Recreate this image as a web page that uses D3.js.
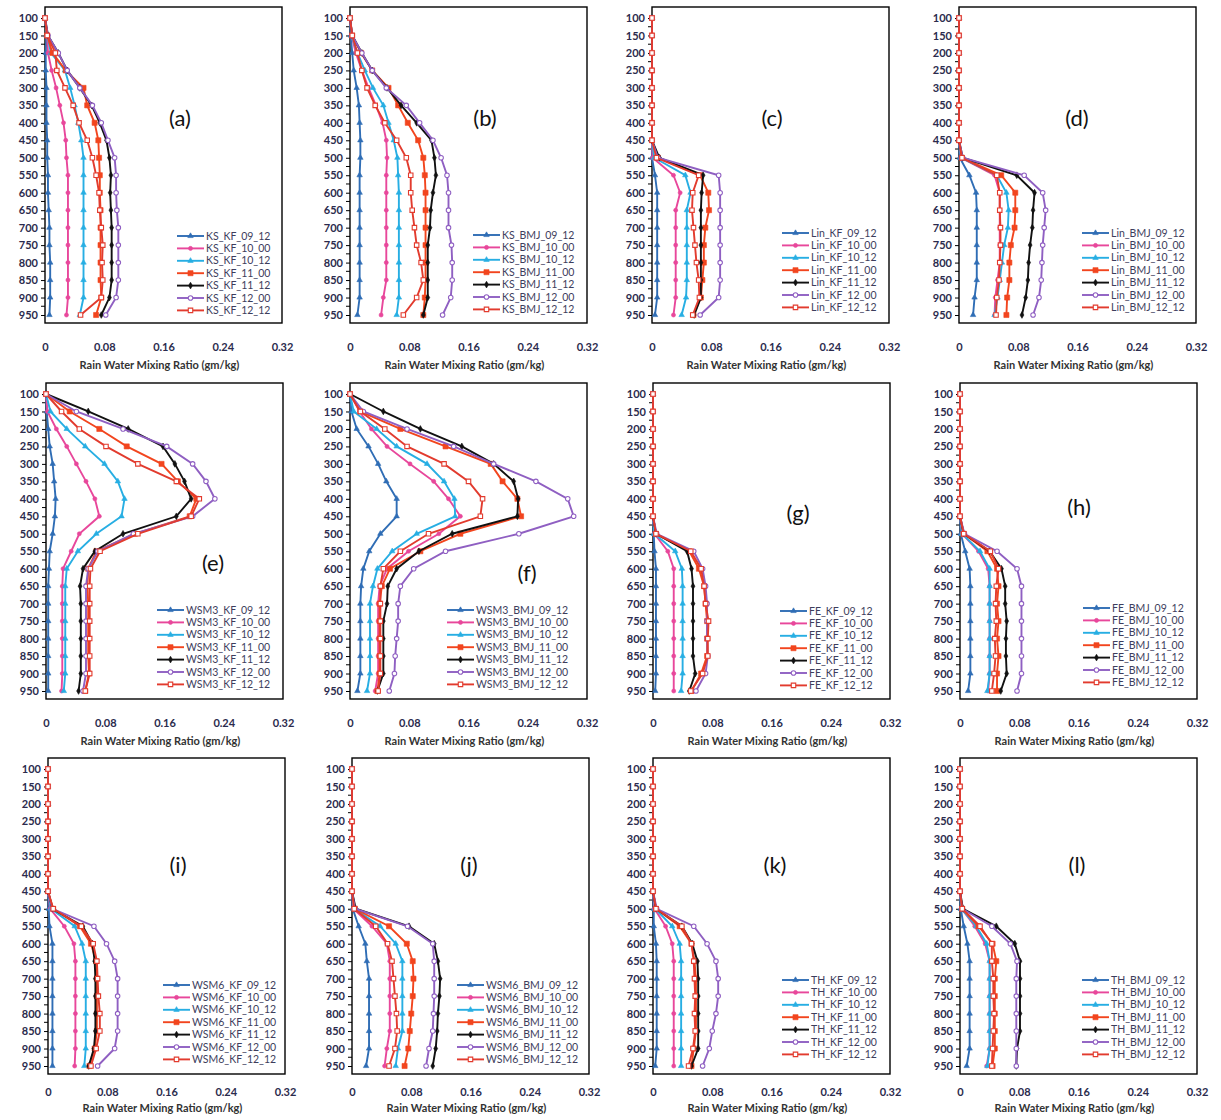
<!DOCTYPE html>
<html>
<head>
<meta charset="utf-8">
<script src="https://cdn.jsdelivr.net/npm/d3@7"></script>
<style>
  body { margin: 0; background: #fff; }
  svg { display: block; }
  text { font-family: Lato, "Open Sans", "DejaVu Sans", sans-serif; }
</style>
</head>
<body>
<svg id="chart" width="1221" height="1120"></svg>
<script>
// Pressure levels (hPa), top of atmosphere first
const levels = [100, 150, 200, 250, 300, 350, 400, 450, 500, 550, 600, 650, 700, 750, 800, 850, 900, 950];

// Forecast runs (day_hour), one series per run
const runs = ["09_12", "10_00", "10_12", "11_00", "11_12", "12_00", "12_12"];

// Microphysics / cumulus scheme combinations, one panel each
const schemes = ["KS_KF", "KS_BMJ", "Lin_KF", "Lin_BMJ", "WSM3_KF", "WSM3_BMJ",
                 "FE_KF", "FE_BMJ", "WSM6_KF", "WSM6_BMJ", "TH_KF", "TH_BMJ"];
const panelTags = ["(a)", "(b)", "(c)", "(d)", "(e)", "(f)", "(g)", "(h)", "(i)", "(j)", "(k)", "(l)"];

const xTicks = [0, 0.08, 0.16, 0.24, 0.32];
const xTitle = "Rain Water Mixing Ratio (gm/kg)";

// Rain water mixing ratio (gm/kg) per run, at each pressure level
const ksKf = [
  [0, 0.002, 0.001, 0.001, 0.002, 0.002, 0.002, 0.003, 0.003, 0.004, 0.004, 0.005, 0.006, 0.006, 0.007, 0.007, 0.007, 0.006],
  [0, 0.003, 0.004, 0.009, 0.015, 0.020, 0.025, 0.028, 0.029, 0.031, 0.031, 0.031, 0.031, 0.031, 0.031, 0.031, 0.031, 0.029],
  [0, 0.003, 0.008, 0.027, 0.034, 0.040, 0.045, 0.049, 0.052, 0.052, 0.052, 0.052, 0.052, 0.052, 0.052, 0.052, 0.052, 0.047],
  [0, 0.003, 0.010, 0.028, 0.052, 0.057, 0.067, 0.072, 0.073, 0.074, 0.074, 0.075, 0.075, 0.075, 0.075, 0.075, 0.076, 0.069],
  [0, 0.004, 0.018, 0.030, 0.047, 0.063, 0.074, 0.083, 0.087, 0.089, 0.088, 0.089, 0.090, 0.090, 0.090, 0.090, 0.087, 0.076],
  [0, 0.004, 0.018, 0.030, 0.047, 0.064, 0.076, 0.085, 0.094, 0.096, 0.096, 0.097, 0.099, 0.099, 0.099, 0.099, 0.096, 0.082],
  [0, 0.003, 0.014, 0.016, 0.027, 0.038, 0.046, 0.057, 0.064, 0.069, 0.073, 0.074, 0.076, 0.078, 0.077, 0.078, 0.076, 0.048]
];
const ksBmj = [
  [0, 0.001, 0.003, 0.005, 0.009, 0.012, 0.013, 0.014, 0.014, 0.013, 0.013, 0.013, 0.013, 0.013, 0.013, 0.013, 0.013, 0.010],
  [0, 0.002, 0.008, 0.016, 0.025, 0.035, 0.044, 0.049, 0.050, 0.049, 0.049, 0.049, 0.049, 0.049, 0.049, 0.049, 0.045, 0.042],
  [0, 0.002, 0.010, 0.020, 0.031, 0.045, 0.052, 0.059, 0.064, 0.065, 0.066, 0.066, 0.066, 0.066, 0.066, 0.066, 0.066, 0.063],
  [0, 0.003, 0.015, 0.030, 0.052, 0.065, 0.078, 0.092, 0.099, 0.101, 0.102, 0.102, 0.102, 0.102, 0.102, 0.102, 0.101, 0.099],
  [0, 0.003, 0.016, 0.030, 0.050, 0.069, 0.090, 0.110, 0.114, 0.116, 0.112, 0.109, 0.108, 0.105, 0.105, 0.105, 0.105, 0.099],
  [0, 0.003, 0.016, 0.030, 0.049, 0.076, 0.094, 0.112, 0.123, 0.131, 0.133, 0.133, 0.133, 0.137, 0.138, 0.138, 0.136, 0.125],
  [0, 0.003, 0.010, 0.016, 0.023, 0.034, 0.047, 0.063, 0.076, 0.082, 0.082, 0.084, 0.087, 0.090, 0.096, 0.099, 0.090, 0.072]
];
const linKf = [
  [0, 0, 0, 0, 0, 0, 0, 0, 0.000, 0.004, 0.007, 0.007, 0.007, 0.007, 0.007, 0.007, 0.007, 0.004],
  [0, 0, 0, 0, 0, 0, 0, 0, 0.001, 0.029, 0.038, 0.032, 0.032, 0.032, 0.032, 0.032, 0.032, 0.029],
  [0, 0, 0, 0, 0, 0, 0, 0, 0.003, 0.045, 0.052, 0.047, 0.047, 0.047, 0.047, 0.047, 0.046, 0.040],
  [0, 0, 0, 0, 0, 0, 0, 0, 0.008, 0.065, 0.076, 0.077, 0.072, 0.070, 0.070, 0.068, 0.066, 0.056],
  [0, 0, 0, 0, 0, 0, 0, 0, 0.010, 0.069, 0.067, 0.066, 0.066, 0.066, 0.066, 0.066, 0.066, 0.057],
  [0, 0, 0, 0, 0, 0, 0, 0, 0.008, 0.090, 0.092, 0.092, 0.092, 0.092, 0.092, 0.092, 0.090, 0.065],
  [0, 0, 0, 0, 0, 0, 0, 0, 0.006, 0.063, 0.055, 0.054, 0.056, 0.058, 0.060, 0.063, 0.064, 0.055]
];
const linBmj = [
  [0, 0, 0, 0, 0, 0, 0, 0, 0.001, 0.014, 0.023, 0.024, 0.024, 0.024, 0.024, 0.024, 0.021, 0.019],
  [0, 0, 0, 0, 0, 0, 0, 0, 0.003, 0.048, 0.055, 0.055, 0.055, 0.055, 0.055, 0.052, 0.049, 0.048],
  [0, 0, 0, 0, 0, 0, 0, 0, 0.003, 0.051, 0.064, 0.067, 0.066, 0.061, 0.058, 0.055, 0.052, 0.048],
  [0, 0, 0, 0, 0, 0, 0, 0, 0.004, 0.057, 0.076, 0.076, 0.075, 0.070, 0.068, 0.068, 0.065, 0.064],
  [0, 0, 0, 0, 0, 0, 0, 0, 0.005, 0.078, 0.102, 0.100, 0.099, 0.096, 0.094, 0.093, 0.090, 0.085],
  [0, 0, 0, 0, 0, 0, 0, 0, 0.005, 0.088, 0.113, 0.117, 0.115, 0.113, 0.112, 0.111, 0.108, 0.100],
  [0, 0, 0, 0, 0, 0, 0, 0, 0.004, 0.051, 0.055, 0.055, 0.056, 0.056, 0.055, 0.054, 0.051, 0.050]
];
const wsm3Kf = [
  [0, 0.001, 0.003, 0.005, 0.009, 0.011, 0.013, 0.012, 0.009, 0.005, 0.004, 0.003, 0.003, 0.003, 0.003, 0.003, 0.003, 0.003],
  [0, 0.002, 0.014, 0.028, 0.041, 0.054, 0.066, 0.072, 0.045, 0.034, 0.023, 0.022, 0.022, 0.022, 0.022, 0.022, 0.022, 0.021],
  [0, 0.006, 0.028, 0.053, 0.079, 0.097, 0.106, 0.102, 0.068, 0.043, 0.028, 0.026, 0.026, 0.026, 0.026, 0.026, 0.026, 0.024],
  [0, 0.032, 0.072, 0.109, 0.156, 0.178, 0.203, 0.194, 0.120, 0.068, 0.057, 0.056, 0.057, 0.057, 0.057, 0.057, 0.058, 0.053],
  [0, 0.057, 0.111, 0.158, 0.174, 0.187, 0.196, 0.176, 0.104, 0.066, 0.050, 0.046, 0.047, 0.047, 0.047, 0.047, 0.047, 0.044],
  [0, 0.041, 0.104, 0.163, 0.198, 0.216, 0.228, 0.198, 0.118, 0.070, 0.057, 0.054, 0.054, 0.054, 0.054, 0.054, 0.054, 0.050],
  [0, 0.021, 0.045, 0.081, 0.124, 0.176, 0.207, 0.196, 0.124, 0.073, 0.060, 0.059, 0.059, 0.059, 0.059, 0.059, 0.059, 0.053]
];
const wsm3Bmj = [
  [0, 0.002, 0.009, 0.025, 0.038, 0.049, 0.063, 0.063, 0.041, 0.026, 0.018, 0.015, 0.014, 0.014, 0.014, 0.014, 0.014, 0.010],
  [0, 0.013, 0.029, 0.050, 0.081, 0.113, 0.133, 0.149, 0.120, 0.079, 0.050, 0.040, 0.038, 0.038, 0.038, 0.038, 0.038, 0.034],
  [0, 0.005, 0.036, 0.063, 0.104, 0.127, 0.141, 0.142, 0.090, 0.057, 0.037, 0.031, 0.027, 0.027, 0.027, 0.027, 0.027, 0.023],
  [0, 0.014, 0.068, 0.129, 0.190, 0.206, 0.226, 0.231, 0.149, 0.095, 0.054, 0.043, 0.040, 0.040, 0.040, 0.040, 0.040, 0.037],
  [0, 0.045, 0.095, 0.151, 0.194, 0.221, 0.227, 0.226, 0.138, 0.093, 0.063, 0.051, 0.050, 0.045, 0.045, 0.045, 0.045, 0.037],
  [0, 0.018, 0.077, 0.140, 0.194, 0.251, 0.294, 0.302, 0.228, 0.129, 0.086, 0.068, 0.065, 0.065, 0.063, 0.061, 0.060, 0.053],
  [0, 0.014, 0.047, 0.077, 0.127, 0.160, 0.179, 0.176, 0.106, 0.068, 0.045, 0.041, 0.041, 0.041, 0.041, 0.041, 0.041, 0.038]
];
const feKf = [
  [0, 0, 0, 0, 0, 0, 0, 0, 0.001, 0.002, 0.004, 0.004, 0.004, 0.004, 0.004, 0.004, 0.004, 0.003],
  [0, 0, 0, 0, 0, 0, 0, 0, 0.002, 0.020, 0.028, 0.028, 0.028, 0.028, 0.028, 0.028, 0.028, 0.028],
  [0, 0, 0, 0, 0, 0, 0, 0, 0.002, 0.030, 0.039, 0.040, 0.040, 0.040, 0.040, 0.040, 0.040, 0.038],
  [0, 0, 0, 0, 0, 0, 0, 0, 0.004, 0.049, 0.062, 0.069, 0.071, 0.073, 0.073, 0.073, 0.065, 0.052],
  [0, 0, 0, 0, 0, 0, 0, 0, 0.004, 0.046, 0.052, 0.054, 0.054, 0.054, 0.054, 0.054, 0.057, 0.049],
  [0, 0, 0, 0, 0, 0, 0, 0, 0.005, 0.055, 0.067, 0.071, 0.073, 0.073, 0.073, 0.074, 0.071, 0.058],
  [0, 0, 0, 0, 0, 0, 0, 0, 0.004, 0.051, 0.065, 0.069, 0.071, 0.075, 0.074, 0.074, 0.067, 0.051]
];
const feBmj = [
  [0, 0, 0, 0, 0, 0, 0, 0, 0.001, 0.007, 0.013, 0.014, 0.014, 0.014, 0.014, 0.014, 0.014, 0.011],
  [0, 0, 0, 0, 0, 0, 0, 0, 0.003, 0.025, 0.038, 0.040, 0.040, 0.040, 0.040, 0.040, 0.040, 0.038],
  [0, 0, 0, 0, 0, 0, 0, 0, 0.003, 0.027, 0.040, 0.040, 0.040, 0.040, 0.040, 0.040, 0.040, 0.037],
  [0, 0, 0, 0, 0, 0, 0, 0, 0.005, 0.037, 0.050, 0.052, 0.050, 0.052, 0.050, 0.052, 0.050, 0.050],
  [0, 0, 0, 0, 0, 0, 0, 0, 0.005, 0.040, 0.056, 0.061, 0.061, 0.063, 0.062, 0.062, 0.063, 0.055],
  [0, 0, 0, 0, 0, 0, 0, 0, 0.006, 0.050, 0.077, 0.083, 0.083, 0.083, 0.083, 0.083, 0.083, 0.077],
  [0, 0, 0, 0, 0, 0, 0, 0, 0.005, 0.041, 0.052, 0.049, 0.048, 0.049, 0.047, 0.048, 0.046, 0.043]
];
const wsm6Kf = [
  [0, 0, 0, 0, 0, 0, 0, 0, 0.001, 0.002, 0.006, 0.006, 0.006, 0.006, 0.006, 0.006, 0.006, 0.006],
  [0, 0, 0, 0, 0, 0, 0, 0, 0.003, 0.022, 0.035, 0.037, 0.037, 0.037, 0.037, 0.037, 0.037, 0.036],
  [0, 0, 0, 0, 0, 0, 0, 0, 0.004, 0.036, 0.046, 0.051, 0.051, 0.051, 0.051, 0.051, 0.051, 0.049],
  [0, 0, 0, 0, 0, 0, 0, 0, 0.007, 0.043, 0.058, 0.065, 0.066, 0.066, 0.066, 0.066, 0.063, 0.056],
  [0, 0, 0, 0, 0, 0, 0, 0, 0.006, 0.047, 0.060, 0.063, 0.064, 0.064, 0.064, 0.064, 0.062, 0.055],
  [0, 0, 0, 0, 0, 0, 0, 0, 0.006, 0.062, 0.079, 0.090, 0.094, 0.094, 0.094, 0.094, 0.090, 0.067],
  [0, 0, 0, 0, 0, 0, 0, 0, 0.007, 0.045, 0.061, 0.066, 0.067, 0.068, 0.070, 0.070, 0.065, 0.058]
];
const wsm6Bmj = [
  [0, 0, 0, 0, 0, 0, 0, 0, 0.001, 0.009, 0.018, 0.020, 0.023, 0.023, 0.023, 0.023, 0.023, 0.019],
  [0, 0, 0, 0, 0, 0, 0, 0, 0.002, 0.027, 0.047, 0.051, 0.051, 0.051, 0.051, 0.051, 0.047, 0.044],
  [0, 0, 0, 0, 0, 0, 0, 0, 0.003, 0.038, 0.059, 0.068, 0.068, 0.068, 0.068, 0.068, 0.062, 0.059],
  [0, 0, 0, 0, 0, 0, 0, 0, 0.004, 0.050, 0.074, 0.082, 0.083, 0.082, 0.080, 0.078, 0.076, 0.071],
  [0, 0, 0, 0, 0, 0, 0, 0, 0.005, 0.077, 0.111, 0.116, 0.119, 0.118, 0.116, 0.115, 0.113, 0.109],
  [0, 0, 0, 0, 0, 0, 0, 0, 0.004, 0.075, 0.109, 0.111, 0.111, 0.111, 0.110, 0.109, 0.104, 0.100],
  [0, 0, 0, 0, 0, 0, 0, 0, 0.003, 0.032, 0.048, 0.054, 0.056, 0.058, 0.060, 0.061, 0.058, 0.050]
];
const thKf = [
  [0, 0, 0, 0, 0, 0, 0, 0, 0.001, 0.001, 0.004, 0.005, 0.005, 0.005, 0.005, 0.005, 0.005, 0.003],
  [0, 0, 0, 0, 0, 0, 0, 0, 0.002, 0.017, 0.026, 0.028, 0.028, 0.028, 0.028, 0.028, 0.028, 0.028],
  [0, 0, 0, 0, 0, 0, 0, 0, 0.003, 0.026, 0.036, 0.038, 0.038, 0.038, 0.038, 0.038, 0.038, 0.038],
  [0, 0, 0, 0, 0, 0, 0, 0, 0.004, 0.036, 0.052, 0.056, 0.058, 0.058, 0.058, 0.058, 0.055, 0.052],
  [0, 0, 0, 0, 0, 0, 0, 0, 0.004, 0.039, 0.053, 0.060, 0.061, 0.061, 0.061, 0.061, 0.061, 0.052],
  [0, 0, 0, 0, 0, 0, 0, 0, 0.005, 0.055, 0.073, 0.085, 0.088, 0.088, 0.085, 0.080, 0.076, 0.067],
  [0, 0, 0, 0, 0, 0, 0, 0, 0.004, 0.039, 0.052, 0.055, 0.056, 0.057, 0.056, 0.057, 0.054, 0.048]
];
const thBmj = [
  [0, 0, 0, 0, 0, 0, 0, 0, 0.001, 0.005, 0.010, 0.013, 0.013, 0.013, 0.013, 0.013, 0.013, 0.009],
  [0, 0, 0, 0, 0, 0, 0, 0, 0.002, 0.020, 0.034, 0.040, 0.040, 0.040, 0.040, 0.040, 0.040, 0.036],
  [0, 0, 0, 0, 0, 0, 0, 0, 0.002, 0.022, 0.036, 0.040, 0.040, 0.040, 0.040, 0.040, 0.040, 0.037],
  [0, 0, 0, 0, 0, 0, 0, 0, 0.003, 0.025, 0.044, 0.049, 0.047, 0.047, 0.047, 0.047, 0.047, 0.044],
  [0, 0, 0, 0, 0, 0, 0, 0, 0.004, 0.049, 0.074, 0.081, 0.081, 0.081, 0.081, 0.081, 0.077, 0.076],
  [0, 0, 0, 0, 0, 0, 0, 0, 0.003, 0.043, 0.068, 0.077, 0.076, 0.076, 0.076, 0.076, 0.076, 0.076],
  [0, 0, 0, 0, 0, 0, 0, 0, 0.003, 0.027, 0.043, 0.043, 0.045, 0.045, 0.046, 0.045, 0.044, 0.043]
];

const panelData = [ksKf, ksBmj, linKf, linBmj, wsm3Kf, wsm3Bmj, feKf, feBmj, wsm6Kf, wsm6Bmj, thKf, thBmj];

// ---- layout ----
const panelLeft = [45, 350, 652, 959, 46, 350, 653, 960, 48, 352, 653, 960];
const rowTop = [7, 383, 758];
const rowLabelPad = [20, 20, 14];
const rowTitleGap = [46, 46, 38];
const plotW = 237, plotH = 316;
const legendDx = [132, 123, 130, 123, 111, 97, 127, 123, 115, 105, 129, 122];
const legendDy = [229, 228, 226, 226, 227, 227, 228, 225, 227, 227, 222, 222];
const tagPos = [[135, 111], [135, 111], [120, 111], [118, 111], [167, 180], [177, 190],
                [145, 130], [119, 124], [130, 107], [117, 107], [122, 107], [117, 107]];

// line colour and marker for each run
const runStyle = [
  { color: "#2f6db5", shape: d3.symbolTriangle, size: 13, filled: true },
  { color: "#e8479b", shape: d3.symbolCircle,   size: 13, filled: true },
  { color: "#27aee3", shape: d3.symbolTriangle, size: 13, filled: true },
  { color: "#f2451e", shape: d3.symbolSquare,   size: 26, filled: true },
  { color: "#111111", shape: d3.symbolDiamond,  size: 13, filled: true },
  { color: "#8f5fc2", shape: d3.symbolCircle,   size: 16, filled: false },
  { color: "#e23b2e", shape: d3.symbolSquare,   size: 20, filled: false }
];

const svg = d3.select("#chart");
const tickColor = "#2b2b4d";

panelData.forEach((series, p) => {
  const row = Math.floor(p / 4);
  const left = panelLeft[p];
  const top = rowTop[row];
  const bottom = top + plotH;

  const x = d3.scaleLinear().domain([0, 0.32]).range([left, left + plotW]);
  const y = d3.scaleLinear().domain([100, 950]).range([top + 11, top + 308]);

  const g = svg.append("g").attr("class", "panel");

  // plot frame
  g.append("rect")
    .attr("x", left).attr("y", top)
    .attr("width", plotW).attr("height", plotH)
    .attr("fill", "none").attr("stroke", "#000").attr("stroke-width", 1.4);

  // pressure axis
  const yAxis = g.append("g")
    .attr("transform", `translate(${left},0)`)
    .call(d3.axisLeft(y).tickValues(levels).tickSize(4).tickPadding(3));
  yAxis.select(".domain").remove();
  yAxis.selectAll(".tick line").attr("stroke", "#000").attr("stroke-width", 1);
  yAxis.selectAll(".tick text")
    .attr("fill", tickColor)
    .style("font-size", "11px").style("font-weight", "700");

  // in-between tick marks on the pressure axis
  const midLevels = levels.slice(1).map((v, k) => (v + levels[k]) / 2);
  g.append("g").selectAll("line").data(midLevels).join("line")
    .attr("x1", left - 4).attr("x2", left)
    .attr("y1", d => y(d)).attr("y2", d => y(d))
    .attr("stroke", "#000").attr("stroke-width", 1);

  // mixing ratio axis
  const xAxis = g.append("g")
    .attr("transform", `translate(0,${bottom})`)
    .call(d3.axisBottom(x).tickValues(xTicks).tickSize(0).tickPadding(rowLabelPad[row])
      .tickFormat(d => d === 0 ? "0" : d3.format(".2f")(d)));
  xAxis.select(".domain").remove();
  xAxis.selectAll(".tick text")
    .attr("fill", tickColor)
    .style("font-size", "11px").style("font-weight", "700");

  g.append("text")
    .attr("x", left + plotW / 2 - 4).attr("y", bottom + rowTitleGap[row])
    .attr("text-anchor", "middle")
    .attr("fill", "#333")
    .style("font-size", "11px").style("font-weight", "700")
    .text(xTitle);

  // profiles
  const line = d3.line().x(d => x(d[0])).y(d => y(d[1]));
  series.forEach((vals, s) => {
    const st = runStyle[s];
    const pts = vals.map((v, k) => [v, levels[k]]);
    g.append("path")
      .datum(pts)
      .attr("d", line)
      .attr("fill", "none")
      .attr("stroke", st.color)
      .attr("stroke-width", 1.9);
    g.append("g").selectAll("path").data(pts).join("path")
      .attr("transform", d => `translate(${x(d[0])},${y(d[1])})`)
      .attr("d", d3.symbol().type(st.shape).size(st.size))
      .attr("fill", st.filled ? st.color : "#fff")
      .attr("stroke", st.color)
      .attr("stroke-width", st.filled ? 0.6 : 1.1);
  });

  // legend
  const lx = left + legendDx[p];
  const ly = top + legendDy[p];
  runs.forEach((r, s) => {
    const st = runStyle[s];
    const yy = ly + s * 12.4;
    g.append("line")
      .attr("x1", lx).attr("x2", lx + 27)
      .attr("y1", yy).attr("y2", yy)
      .attr("stroke", st.color).attr("stroke-width", 1.9);
    g.append("path")
      .attr("transform", `translate(${lx + 13.5},${yy})`)
      .attr("d", d3.symbol().type(st.shape).size(st.size)())
      .attr("fill", st.filled ? st.color : "#fff")
      .attr("stroke", st.color)
      .attr("stroke-width", st.filled ? 0.6 : 1.1);
    g.append("text")
      .attr("x", lx + 29).attr("y", yy)
      .attr("dy", "0.35em")
      .attr("fill", "#3d3d5c")
      .style("font-size", "10.5px")
      .text(`${schemes[p]}_${r}`);
  });

  // panel tag
  g.append("text")
    .attr("x", left + tagPos[p][0]).attr("y", top + tagPos[p][1])
    .attr("text-anchor", "middle").attr("dy", "0.35em")
    .attr("fill", "#111")
    .style("font-size", "22px")
    .text(panelTags[p]);
});
</script>
</body>
</html>
